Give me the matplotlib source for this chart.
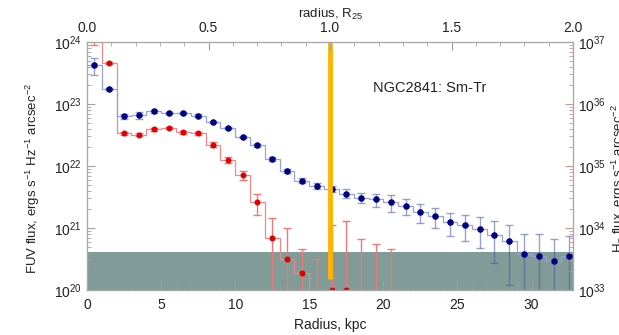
import numpy as np
import matplotlib
matplotlib.use("Agg")
from matplotlib import pyplot as plt
from matplotlib.ticker import FixedLocator, MultipleLocator, FormatStrFormatter, LogLocator

plt.rcParams['font.family'] = ['Liberation Sans', 'DejaVu Sans']
plt.rcParams['mathtext.fontset'] = 'custom'
plt.rcParams['mathtext.rm'] = 'Liberation Sans'
plt.rcParams['mathtext.it'] = 'Liberation Sans:italic'

# radial bins, kpc (bin centres, 1 kpc wide)
radius = [0.5, 1.5, 2.5, 3.5, 4.5, 5.5, 6.5, 7.5, 8.5, 9.5, 10.5,
          11.5, 12.5, 13.5, 14.5, 15.5, 16.5, 17.5, 18.5, 19.5, 20.5,
          21.5, 22.5, 23.5, 24.5, 25.5, 26.5, 27.5, 28.5, 29.5, 30.5,
          31.5, 32.5]

# FUV surface brightness, ergs s^-1 Hz^-1 arcsec^-2
fuv = [4.2e23, 1.75e23, 6.3e22, 6.6e22, 7.6e22, 7.2e22, 7.1e22, 6.5e22,
       5.1e22, 4.1e22, 2.95e22, 2.15e22, 1.3e22, 8.3e21, 5.8e21, 4.8e21,
       4.3e21, 3.6e21, 3.1e21, 2.9e21, 2.6e21, 2.3e21, 1.8e21, 1.55e21,
       1.23e21, 1.12e21, 9.8e20, 7.8e20, 6.2e20, 3.8e20, 3.55e20, 2.95e20,
       3.6e20]
fuv_err = [1.3e23, 5e21, 6e21, 8e21, 4e21, 3e21, 3e21, 3e21, 2e21, 2e21,
           1.5e21, 1.2e21, 8e20, 6e20, 5e20, 5e20, 5e20, 6e20, 6e20, 7e20,
           8e20, 6.5e20, 6e20, 5.5e20, 5e20, 5e20, 5e20, 5.1e20, 5e20,
           4.1e20, 4.4e20, 3.8e20, 3.8e20]

# H-alpha surface brightness, scaled onto the FUV axis (x 1e-13)
ha = [2.0e24, 4.6e23, 3.4e22, 3.2e22, 3.9e22, 4.1e22, 3.5e22, 3.4e22,
      2.2e22, 1.26e22, 7.1e21, 2.6e21, 6.8e20, 3.2e20, 1.9e20, 6e19,
      1.0e20, 1.0e20, 5e19, 5e19, 5e19, 0, 0, 0, 0, 0, 0, 0, 0, 0, 0, 0, 0]
ha_err = [1.1e24, 2e22, 2e21, 2e21, 2e21, 2e21, 2e21, 2e21, 2e21, 1.5e21,
          1.2e21, 1.0e21, 7.7e20, 6.8e20, 2.7e20, 2.6e20, 1.02e21, 1.22e21,
          6.1e20, 5.1e20, 4.1e20, 0, 0, 0, 0, 0, 0, 0, 0, 0, 0, 0, 0]

r25_kpc = 16.4          # optical radius
sky_limit = 4.1e20      # background level
ha_scale = 1e13         # FUV -> H-alpha axis factor
ylo, yhi = 1e20, 1e24
xmax = 32.8

radius = np.array(radius)
fuv = np.array(fuv)
fuv_err = np.array(fuv_err)
ha = np.array(ha)
ha_err = np.array(ha_err)
edges = np.append(radius - 0.5, radius[-1] + 0.5)

fig = plt.figure(figsize=(6.19, 3.35), dpi=100)
ax = fig.add_axes([0.1406, 0.1343, 0.7851, 0.7403])

ax.axhspan(ylo, sky_limit, color='#809b98', zorder=1, lw=0)

# H-alpha profile
ax.stairs(np.maximum(ha, ylo), edges, baseline=None, color='#f08888', lw=0.9, zorder=2)
ok = ha > 0
ax.errorbar(radius[ok], ha[ok], yerr=ha_err[ok], fmt='none', ecolor='#f07878',
            elinewidth=1.0, capsize=3, capthick=1.0, zorder=3)
ax.plot(radius[ok], ha[ok], 'o', color='#e00000', ms=3.3, zorder=4)

# FUV profile
ax.stairs(fuv, edges, baseline=None, color='#98a2dc', lw=0.9, zorder=2)
ax.errorbar(radius, fuv, yerr=fuv_err, fmt='none', ecolor='#4858a8', alpha=0.55,
            elinewidth=1.0, capsize=3, capthick=1.0, zorder=3)
ax.plot(radius, fuv, 'o', color='#000080', ms=3.7, zorder=4)

# R25 marker
ax.vlines(r25_kpc, 1.5e20, yhi, color='#ffb400', lw=3.5, zorder=5)

ax.set_yscale('log')
ax.set_xlim(0, xmax)
ax.set_ylim(ylo, yhi)
ax.xaxis.set_major_locator(MultipleLocator(5))
ax.xaxis.set_minor_locator(MultipleLocator(1))
ax.yaxis.set_major_locator(LogLocator(10))
ax.set_xlabel('Radius, kpc', fontsize=10, color='#222222', labelpad=4)
ax.set_ylabel(r'FUV flux, ergs s$^{-1}$ Hz$^{-1}$ arcsec$^{-2}$', fontsize=9.5, color='#222222')
ax.yaxis.set_label_coords(-0.093, 0.45)

ax.text(0.705, 0.815, 'NGC2841: Sm-Tr', fontsize=10.5, color='#222222',
        ha='center', va='center', transform=ax.transAxes)

# top axis in units of R25
axt = ax.twiny()
axt.set_xlim(0, xmax / r25_kpc)
axt.xaxis.set_major_locator(FixedLocator([0.0, 0.5, 1.0, 1.5, 2.0]))
axt.xaxis.set_major_formatter(FormatStrFormatter('%.1f'))
axt.xaxis.set_minor_locator(MultipleLocator(0.1))
axt.set_xlabel(r'radius, R$_{25}$', fontsize=9.5, color='#222222', labelpad=2.5)

# right axis for H-alpha
axr = ax.twinx()
axr.set_yscale('log')
axr.set_ylim(ylo * ha_scale, yhi * ha_scale)
axr.yaxis.set_major_locator(LogLocator(10))
axr.set_ylabel(r'H$_\alpha$ flux, ergs s$^{-1}$ arcsec$^{-2}$', fontsize=9.5, color='#222222')
axr.yaxis.set_label_coords(1.075, 0.45)

for a in (ax, axt, axr):
    for s in a.spines.values():
        s.set_color('#a8a8a8')
    a.tick_params(which='both', direction='in', color='#a0a0a0', labelsize=10,
                  labelcolor='#222222')
    a.tick_params(which='major', length=6)
    a.tick_params(which='minor', length=3)
ax.tick_params(axis='y', which='both', right=False)
axr.tick_params(axis='y', which='both', color='#c89898')
ax.tick_params(axis='x', pad=6)
axt.tick_params(axis='x', pad=5)

fig.savefig('out.png', dpi=100)
